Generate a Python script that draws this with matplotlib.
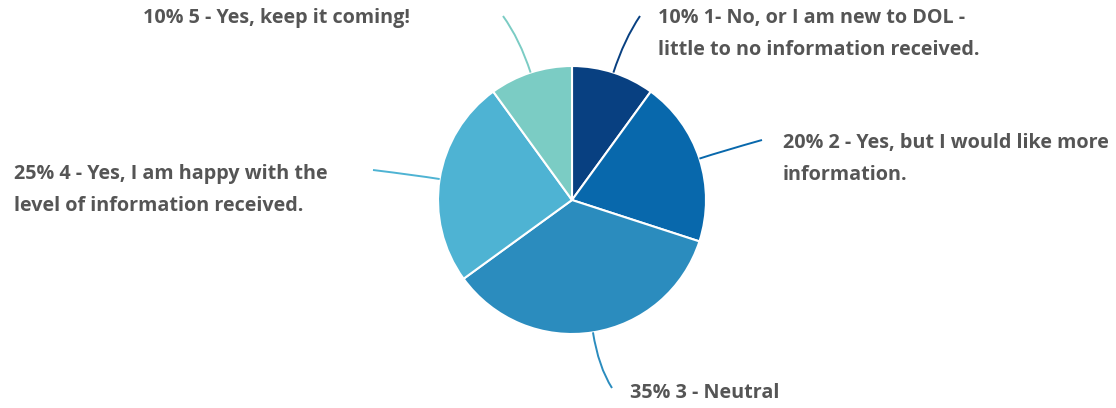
import matplotlib
matplotlib.use("Agg")
import matplotlib.pyplot as plt
from matplotlib.path import Path
from matplotlib.patches import PathPatch
import numpy as np

# Survey responses
categories = [
    "1- No, or I am new to DOL -\nlittle to no information received.",
    "2 - Yes, but I would like more\ninformation.",
    "3 - Neutral",
    "4 - Yes, I am happy with the\nlevel of information received.",
    "5 - Yes, keep it coming!",
]
shares = [10, 20, 35, 25, 10]
colors = ["#084081", "#0868ac", "#2b8cbe", "#4eb3d3", "#7bccc4"]

W, H = 1116, 408
fig = plt.figure(figsize=(W / 100, H / 100), dpi=100)
ax = fig.add_axes([0, 0, 1, 1])

cx, cy, r = 572, 208, 134
wedges, _ = ax.pie(
    shares, colors=colors, startangle=90, counterclock=False,
    radius=r, center=(cx, cy), frame=True,
    wedgeprops=dict(edgecolor="white", linewidth=1.5),
)
ax.set_xlim(0, W)
ax.set_ylim(0, H)
ax.set_aspect("equal")
ax.axis("off")

# Leader line end and text placement per slice
line_ends = [(640, 392), (762, 268), (612, 20), (373, 238), (503, 392)]
text_pos = [(658, 400), (783, 275), (630, 25), (14, 244), (410, 400)]
aligns = ["left", "left", "left", "left", "right"]
pull = [35, 25, 35, 25, 35]

text_color = "#555555"
for w, s, lab, col, end, tp, ha, d in zip(wedges, shares, categories, colors,
                                          line_ends, text_pos, aligns, pull):
    mid = np.deg2rad((w.theta1 + w.theta2) / 2)
    ux, uy = np.cos(mid), np.sin(mid)
    p0 = (cx + r * ux, cy + r * uy)
    p1 = (cx + (r + d) * ux, cy + (r + d) * uy)
    path = Path([p0, p1, end], [Path.MOVETO, Path.CURVE3, Path.CURVE3])
    ax.add_patch(PathPatch(path, facecolor="none", edgecolor=col, lw=1.4))
    ax.text(tp[0], tp[1], f"{s}% {lab}", ha=ha, va="top", color=text_color,
            fontsize=14.2, fontweight="bold", family=["Open Sans", "DejaVu Sans"],
            linespacing=1.78)

fig.savefig("out.png", dpi=100, facecolor="white")
